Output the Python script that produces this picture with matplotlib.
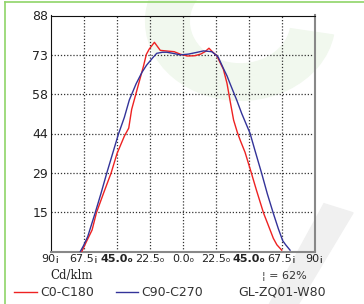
import numpy as np
import matplotlib.pyplot as plt
from matplotlib.lines import Line2D
from matplotlib.patches import Wedge, Polygon

# C0-C180 curve (angle in degrees, cd/klm)
red_ang = [-69, -66, -62, -59, -54, -49, -45, -40, -37, -35, -33, -29, -27, -25, -23,
           -19.5, -15.5, -10, -6, -2, 3, 8, 12, 15, 17.7, 20, 23, 27.5, 30, 32, 34.5,
           37, 39, 42.3, 46, 50, 55, 58, 61.6, 64, 67.3]
red_val = [0, 3.5, 8, 14.5, 22, 29.3, 36.5, 43, 46, 53, 57, 65, 69, 73.5, 75.5,
           78, 75, 74.7, 74.5, 73.6, 72.9, 73, 73.6, 74.5, 75.8, 74.5, 73, 68, 62.7, 56.5, 49,
           44.5, 41.5, 37, 30.4, 23, 14.2, 10, 4.9, 2.5, 0.5]

# C90-C270 curve
blue_ang = [-70, -68, -65, -60, -56, -52, -48, -44, -40, -36.6, -32, -28, -24.8, -21,
            -17.9, -14, -11, -6, -2, 3.6, 9, 14, 19.6, 22, 24, 27.5, 30, 32, 36.6, 40,
            45.7, 49, 53.7, 57.5, 61.6, 65, 68, 70, 73]
blue_val = [0, 2, 5.5, 14.2, 21.5, 29.2, 36.5, 43.8, 50, 56.5, 62.5, 66.8, 69.5, 72,
            73.9, 74.3, 74.3, 73.8, 73.3, 73.6, 74.2, 74.8, 74.5, 73.5, 72.5, 68.3, 65.5, 62.7, 56.5, 51.5,
            44.1, 37.8, 29, 21.5, 14.2, 8.5, 4, 2.5, 0.5]

x_ticks = [-90, -67.5, -45, -22.5, 0, 22.5, 45, 67.5, 90]
x_labels = ['90¡', '67.5¡', '45.0ₒ', '22.5ₒ', '0.0ₒ', '22.5ₒ', '45.0ₒ', '67.5¡', '90¡']
y_max = 88
y_labels = ['15', '29', '44', '58', '73', '88']

plt.rcParams['font.family'] = ['DejaVu Sans', 'Noto Sans CJK SC']

fig = plt.figure(figsize=(3.64, 3.04), dpi=100)

# faint watermark shapes
fig.add_artist(Wedge((0.66, 0.93), 0.26, 150, 350, width=0.12, transform=fig.transFigure,
                     color='#f1f8ee', zorder=0))
fig.add_artist(Polygon([(0.74, 0.0), (0.82, 0.0), (0.97, 0.3), (0.89, 0.33)], closed=True,
                       transform=fig.transFigure, color='#f0f0f0', zorder=0))

ax = fig.add_axes([51 / 364, 1 - 251.5 / 304, 264 / 364, 236 / 304])
ax.patch.set_alpha(0)

ax.plot(red_ang, red_val, color='#ee2222', lw=1.0, zorder=3)
ax.plot(blue_ang, blue_val, color='#333399', lw=1.0, zorder=3)

ax.set_xlim(-90, 90)
ax.set_ylim(0, y_max)
ax.set_xticks(x_ticks)
ax.set_xticklabels(x_labels, fontsize=8)
for i in (2, 6):
    ax.get_xticklabels()[i].set_fontweight('bold')
y_ticks = [y_max * k / 6 for k in range(1, 7)]
ax.set_yticks(y_ticks)
ax.set_yticklabels(y_labels, fontsize=9)
ax.tick_params(length=0, pad=2, colors='#222222')

for v in x_ticks[1:-1]:
    ax.axvline(v, color='#333333', lw=0.9, ls=(0, (1, 1.5)), zorder=1)
for v in y_ticks[:-1]:
    ax.axhline(v, color='#333333', lw=0.9, ls=(0, (1, 1.5)), zorder=1)

ax.spines['top'].set_color('#111111')
ax.spines['left'].set_color('#111111')
ax.spines['right'].set_color('#888888')
ax.spines['bottom'].set_color('#888888')
ax.spines['right'].set_linewidth(1.5)
ax.spines['bottom'].set_linewidth(1.5)

fig.text(72 / 364, 1 - 276 / 304, 'Cd/klm', family='DejaVu Serif', fontsize=8.5,
         ha='center', va='center', color='#222222')
fig.text(284 / 364, 1 - 276 / 304, '¦ = 62%', fontsize=8, ha='center', va='center',
         color='#333333')

# legend row
fig.add_artist(Line2D([14 / 364, 37 / 364], [1 - 292 / 304] * 2, color='#ee2222', lw=1.0))
fig.text(40 / 364, 1 - 292 / 304, 'C0-C180', fontsize=9, va='center', color='#333333')
fig.add_artist(Line2D([116 / 364, 138 / 364], [1 - 292 / 304] * 2, color='#333399', lw=1.0))
fig.text(141 / 364, 1 - 292 / 304, 'C90-C270', fontsize=9, va='center', color='#333333')
fig.text(238 / 364, 1 - 292 / 304, 'GL-ZQ01-W80', fontsize=9, va='center', color='#333333')

# green frame
fig.add_artist(Line2D([4.5 / 364, 4.5 / 364], [0, 1 - 2 / 304], color='#8fd468', lw=1.2))
fig.add_artist(Line2D([4.5 / 364, 1], [1 - 2 / 304] * 2, color='#8fd468', lw=1.2))

fig.savefig('out.png', dpi=100)
